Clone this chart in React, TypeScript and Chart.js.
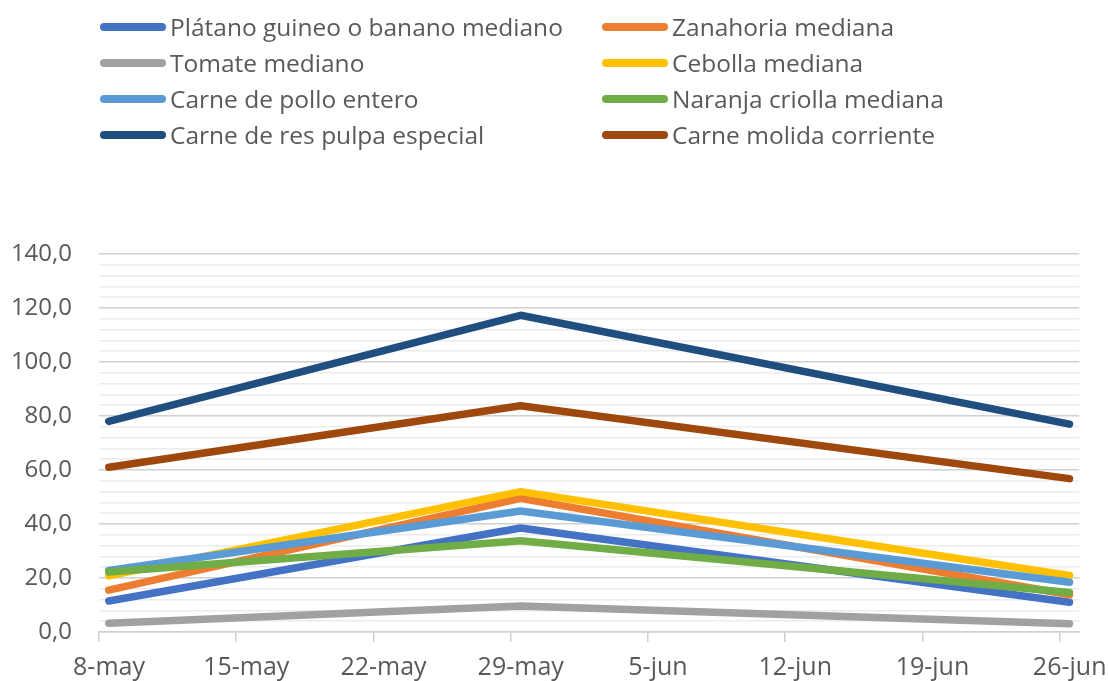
import React, { useEffect, useRef } from 'react';
import { Chart, registerables } from 'chart.js';

Chart.register(...registerables);

// X axis tick labels (weekly) and the dates that carry observations
const tickLabels = ['8-may', '15-may', '22-may', '29-may', '5-jun', '12-jun', '19-jun', '26-jun'];
const pointDates = ['8-may', '29-may', '26-jun'];

// Series names (legend order, row-wise)
const seriesNames = [
  'Plátano guineo o banano mediano',
  'Zanahoria mediana',
  'Tomate mediano',
  'Cebolla mediana',
  'Carne de pollo entero',
  'Naranja criolla mediana',
  'Carne de res pulpa especial',
  'Carne molida corriente',
];

const seriesColors = ['#4472C4', '#ED7D31', '#A0A2A2', '#FFC000', '#5B9BD5', '#70AD47', '#1F4E7F', '#9E480E'];

// Values at 8-may, 29-may, 26-jun
const platano = [11.5, 38.5, 11.0];
const zanahoria = [15.5, 49.5, 13.8];
const tomate = [3.2, 9.6, 3.1];
const cebolla = [20.8, 52.0, 20.9];
const pollo = [22.8, 44.8, 18.4];
const naranja = [22.2, 33.8, 14.6];
const res = [78.0, 117.3, 77.0];
const molida = [61.0, 83.8, 56.8];

const seriesValues = [platano, zanahoria, tomate, cebolla, pollo, naranja, res, molida];

const yMin = 0;
const yMax = 140;
const yMajorStep = 20;
const yMinorStep = 4;
const daysPerTick = 7;

const TEXT = '#595959';
const FONT = '"Open Sans", "Noto Sans", sans-serif';

function Legend() {
  return (
    <div
      style={{
        position: 'absolute',
        left: 100,
        top: 9,
        display: 'grid',
        gridTemplateColumns: '502px 420px',
        gridAutoRows: '36px',
        fontFamily: FONT,
        fontSize: 24.5,
        color: TEXT,
        zIndex: 2,
      }}
    >
      {seriesNames.map((name, i) => (
        <div key={name} style={{ display: 'flex', alignItems: 'center', whiteSpace: 'nowrap', lineHeight: '36px' }}>
          <span
            style={{
              display: 'inline-block',
              width: 66,
              height: 8,
              borderRadius: 4,
              background: seriesColors[i],
              marginRight: 4,
            }}
          />
          <span>{name}</span>
        </div>
      ))}
    </div>
  );
}

export default function App() {
  const canvasRef = useRef<HTMLCanvasElement | null>(null);

  useEffect(() => {
    if (!canvasRef.current) return;
    const n = seriesValues.length;
    const datasets = seriesValues.map((vals, i) => ({
      label: seriesNames[i],
      data: vals.map((v, j) => ({
        x: tickLabels.indexOf(pointDates[j]) * daysPerTick + 0.5,
        y: v,
      })),
      borderColor: seriesColors[i],
      backgroundColor: seriesColors[i],
      borderWidth: 7.5,
      borderCapStyle: 'round' as const,
      borderJoinStyle: 'round' as const,
      pointRadius: 0,
      pointHoverRadius: 0,
      tension: 0,
      order: n - i,
    }));

    const xMax = (tickLabels.length - 1) * daysPerTick + 1;

    const chart = new Chart(canvasRef.current, {
      type: 'line',
      data: { datasets },
      options: {
        animation: false,
        responsive: true,
        maintainAspectRatio: false,
        layout: { padding: { top: 254, right: 26, left: 0, bottom: 0 } },
        plugins: {
          legend: { display: false },
          tooltip: { enabled: false },
        },
        scales: {
          x: {
            type: 'linear',
            min: 0,
            max: xMax,
            afterBuildTicks: (scale: any) => {
              scale.ticks = tickLabels.map((_, i) => ({ value: i * daysPerTick }));
            },
            afterFit: (scale: any) => {
              scale.height = 49;
            },
            ticks: {
              autoSkip: false,
              maxRotation: 0,
              minRotation: 0,
              labelOffset: 10,
              padding: 11,
              color: TEXT,
              font: { family: FONT, size: 25 },
              callback: (_v: any, idx: number) => tickLabels[idx],
            },
            grid: {
              drawOnChartArea: false,
              drawTicks: true,
              tickLength: 10,
              color: '#d0d0d0',
              lineWidth: 1.5,
            },
            border: { display: true, color: '#d0d0d0', width: 1.5 },
          },
          y: {
            type: 'linear',
            min: yMin,
            max: yMax,
            afterBuildTicks: (scale: any) => {
              const t: { value: number }[] = [];
              for (let v = yMin; v <= yMax; v += yMinorStep) t.push({ value: v });
              scale.ticks = t;
            },
            afterFit: (scale: any) => {
              scale.width = 99;
            },
            ticks: {
              autoSkip: false,
              padding: 27,
              color: TEXT,
              font: { family: FONT, size: 24 },
              callback: (v: any) =>
                Number(v) % yMajorStep === 0 ? Number(v).toFixed(1).replace('.', ',') : '',
            },
            grid: {
              drawTicks: false,
              lineWidth: 1.5,
              color: (ctx: any) =>
                ctx.tick && ctx.tick.value % yMajorStep === 0 ? '#d0d0d0' : '#ececec',
            },
            border: { display: false },
          },
        },
      },
    });
    return () => chart.destroy();
  }, []);

  return (
    <div style={{ position: 'absolute', left: 0, top: 0, width: 1108, height: 681, background: '#fff' }}>
      <Legend />
      <div style={{ position: 'relative', width: 1108, height: 681 }}>
        <canvas ref={canvasRef} />
      </div>
    </div>
  );
}
